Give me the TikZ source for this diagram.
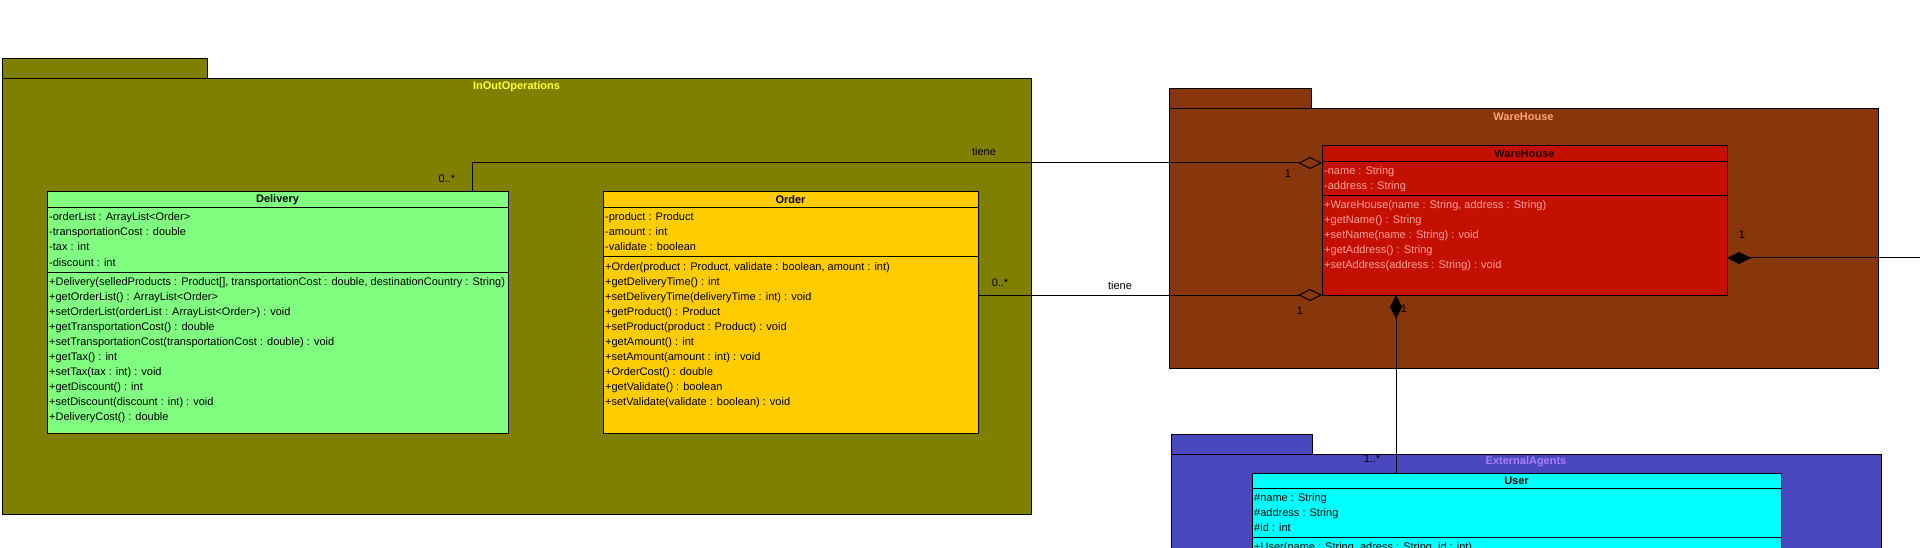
\documentclass[tikz,border=0pt]{standalone}
\usepackage{fontspec}
\setmainfont{Liberation Sans}
\usepackage{xcolor}
\definecolor{oliveBg}{HTML}{808000}
\definecolor{brownBg}{HTML}{88360C}
\definecolor{blueBg}{HTML}{4A48BE}
\definecolor{deliveryBg}{HTML}{80FF80}
\definecolor{orderBg}{HTML}{FFCC00}
\definecolor{wareBg}{HTML}{C41000}
\definecolor{userBg}{HTML}{00FFFF}
\definecolor{inoutText}{HTML}{FFFF33}
\definecolor{wareText}{HTML}{FFA374}
\definecolor{extText}{HTML}{A87DFF}
\definecolor{whMember}{HTML}{FFA0A0}
\definecolor{whName}{HTML}{2A0000}
\usetikzlibrary{positioning,calc,arrows.meta}
\tikzset{%
  pkgBox/.style={%
    rectangle,
    draw=black,
    line width=1pt,
    anchor=north west,
    inner sep=0pt,
    outer sep=0pt
  },
  classBox/.style={%
    rectangle,
    draw=black,
    line width=1pt,
    anchor=north west,
    inner sep=0pt,
    outer sep=0pt
  },
  pkgTitle/.style={%
    font=\fontsize{11}{13}\selectfont\bfseries,
    inner sep=0pt
  },
  className/.style={%
    font=\fontsize{11}{13}\selectfont\bfseries,
    inner sep=0pt
  },
  member/.style={%
    anchor=west,
    inner sep=0pt,
    font=\fontsize{11}{13}\selectfont,
    text height=8.5pt,
    text depth=2.5pt
  },
  sepLine/.style={line width=1pt},
  aggrLine/.style={%
    -{Diamond[open,length=24pt,width=12pt]},
    line width=1pt
  },
  compLine/.style={%
    -{Diamond[length=24pt,width=12pt]},
    line width=1pt
  },
  assocLabel/.style={%
    font=\fontsize{11}{13}\selectfont,
    inner sep=0pt
  }
}

\begin{document}
\begin{tikzpicture}[x=1pt,y=-1pt]
  \useasboundingbox (0,0) rectangle (1920,548);
  \clip (0,0) rectangle (1920,548);

  % packages
  \node[pkgBox, fill=oliveBg, minimum width=205, minimum height=20] (inoutTab) at (2,59) {};
  \node[pkgBox, fill=oliveBg, minimum width=1029, minimum height=435] (inoutPkg) at (2,79) {};
  \node[pkgTitle, text=inoutText] (inoutTitle) at ($(inoutPkg.north)+(0,8)$) {InOutOperations};

  \node[pkgBox, fill=brownBg, minimum width=142, minimum height=20] (wareTab) at (1169,89) {};
  \node[pkgBox, fill=brownBg, minimum width=709, minimum height=259] (warePkg) at (1169,109) {};
  \node[pkgTitle, text=wareText] (wareTitle) at ($(warePkg.north)+(0,8)$) {WareHouse};

  \node[pkgBox, fill=blueBg, minimum width=141, minimum height=20] (extTab) at (1171,434) {};
  \node[pkgBox, fill=blueBg, minimum width=710, minimum height=140] (extPkg) at (1171,454) {};
  \node[pkgTitle, text=extText] (extTitle) at ($(extPkg.north)+(0,8)$) {ExternalAgents};

  % classes
  \node[classBox, fill=deliveryBg, minimum width=461, minimum height=241] (delivery) at (47,192) {};
  \node[className] (deliveryName) at ($(delivery.north)+(0,8)$) {Delivery};
  \draw[sepLine] ($(delivery.north west)+(0,16)$) -- ($(delivery.north east)+(0,16)$);
  \draw[sepLine] ($(delivery.north west)+(0,80)$) -- ($(delivery.north east)+(0,80)$);
  \foreach \m [count=\i] in {{-orderList : ArrayList<Order>}, {-transportationCost : double},
      {-tax : int}, {-discount : int}}
    \node[member] (deliveryAttr\i) at ($(delivery.north west)+(2,11+15*\i)$) {\m};
  \foreach \m [count=\i] in {{+Delivery(selledProducts : Product[], transportationCost : double, destinationCountry : String)},
      {+getOrderList() : ArrayList<Order>}, {+setOrderList(orderList : ArrayList<Order>) : void},
      {+getTransportationCost() : double}, {+setTransportationCost(transportationCost : double) : void},
      {+getTax() : int}, {+setTax(tax : int) : void}, {+getDiscount() : int},
      {+setDiscount(discount : int) : void}, {+DeliveryCost() : double}}
    \node[member] (deliveryOp\i) at ($(delivery.north west)+(2,75+15*\i)$) {\m};

  \node[classBox, fill=orderBg, minimum width=375, minimum height=241] (order) at (603,192) {};
  \node[className] (orderName) at ($(order.north)+(0,8)$) {Order};
  \draw[sepLine] ($(order.north west)+(0,16)$) -- ($(order.north east)+(0,16)$);
  \draw[sepLine] ($(order.north west)+(0,65)$) -- ($(order.north east)+(0,65)$);
  \foreach \m [count=\i] in {{-product : Product}, {-amount : int}, {-validate : boolean}}
    \node[member] (orderAttr\i) at ($(order.north west)+(2,11+15*\i)$) {\m};
  \foreach \m [count=\i] in {{+Order(product : Product, validate : boolean, amount : int)},
      {+getDeliveryTime() : int}, {+setDeliveryTime(deliveryTime : int) : void},
      {+getProduct() : Product}, {+setProduct(product : Product) : void},
      {+getAmount() : int}, {+setAmount(amount : int) : void}, {+OrderCost() : double},
      {+getValidate() : boolean}, {+setValidate(validate : boolean) : void}}
    \node[member] (orderOp\i) at ($(order.north west)+(2,60+15*\i)$) {\m};

  \node[classBox, fill=wareBg, minimum width=405, minimum height=149] (warehouse) at (1322,146) {};
  \node[className, text=whName] (warehouseName) at ($(warehouse.north)+(0,8)$) {WareHouse};
  \draw[sepLine] ($(warehouse.north west)+(0,16)$) -- ($(warehouse.north east)+(0,16)$);
  \draw[sepLine] ($(warehouse.north west)+(0,50)$) -- ($(warehouse.north east)+(0,50)$);
  \foreach \m [count=\i] in {{-name : String}, {-address : String}}
    \node[member, text=whMember] (warehouseAttr\i) at ($(warehouse.north west)+(2,11+15*\i)$) {\m};
  \foreach \m [count=\i] in {{+WareHouse(name : String, address : String)}, {+getName() : String},
      {+setName(name : String) : void}, {+getAddress() : String},
      {+setAddress(address : String) : void}}
    \node[member, text=whMember] (warehouseOp\i) at ($(warehouse.north west)+(2,45+15*\i)$) {\m};

  \node[classBox, fill=userBg, minimum width=529, minimum height=120] (user) at (1252,473) {};
  \node[className] (userName) at ($(user.north)+(0,8)$) {User};
  \draw[sepLine] ($(user.north west)+(0,15)$) -- ($(user.north east)+(0,15)$);
  \draw[sepLine] ($(user.north west)+(0,64)$) -- ($(user.north east)+(0,64)$);
  \foreach \m [count=\i] in {{\#name : String}, {\#address : String}, {\#id : int}}
    \node[member] (userAttr\i) at ($(user.north west)+(2,10+15*\i)$) {\m};
  \node[member] (userOp1) at ($(user.north west)+(2,74)$) {+User(name : String, adress : String, id : int)};

  % associations
  \coordinate (offRight) at (1925,258);
  \draw[aggrLine] ($(delivery.north east)+(-36,0)$) |- ($(warehouse.north west)+(0,17)$);
  \draw[aggrLine] (order.east |- warehouse.south west) -- (warehouse.south west);
  \draw[compLine] (offRight) -- (warehouse.east |- offRight);
  \draw[compLine] ($(user.north west)+(144,0)$) -- ($(warehouse.south west)+(74,0)$);

  \node[assocLabel] (multDelivery) at (447,179) {0..*};
  \node[assocLabel] (tieneTop) at (984,152) {tiene};
  \node[assocLabel] (multWareTop) at (1288,174) {1};
  \node[assocLabel] (multOrder) at (1000,283) {0..*};
  \node[assocLabel] (tieneBottom) at (1120,286) {tiene};
  \node[assocLabel] (multWareBottom) at (1300,311) {1};
  \node[assocLabel] (multWareRight) at (1742,235) {1};
  \node[assocLabel] (multWareUser) at (1404,309) {1};
  \node[assocLabel] (multUser) at (1372,459) {1..*};
\end{tikzpicture}
\end{document}
